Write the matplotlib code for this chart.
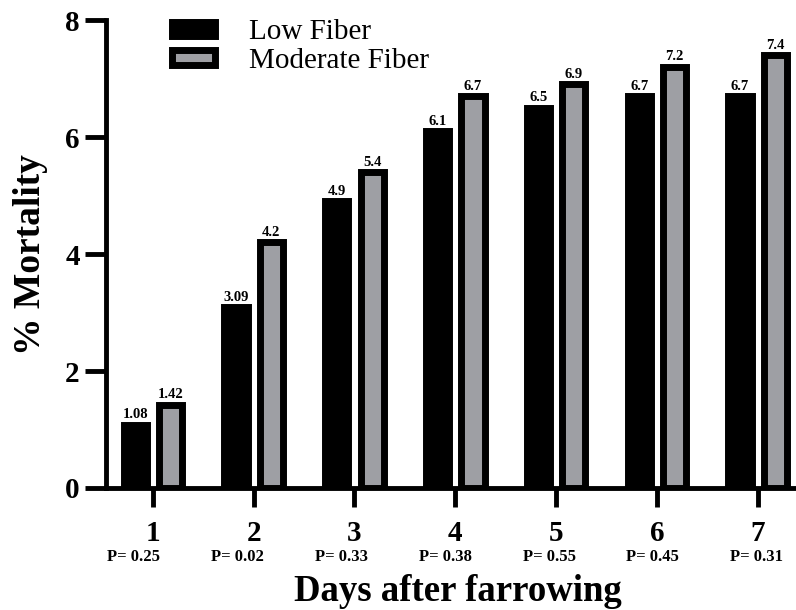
# mortality by day after farrowing, low vs moderate fiber

import numpy as np
import matplotlib.pyplot as plt

days = [1, 2, 3, 4, 5, 6, 7]
low_fiber = [1.08, 3.09, 4.9, 6.1, 6.5, 6.7, 6.7]
mod_fiber = [1.42, 4.2, 5.4, 6.7, 6.9, 7.2, 7.4]
low_labels = ["1.08", "3.09", "4.9", "6.1", "6.5", "6.7", "6.7"]
mod_labels = ["1.42", "4.2", "5.4", "6.7", "6.9", "7.2", "7.4"]
pvals = ["0.25", "0.02", "0.33", "0.38", "0.55", "0.45", "0.31"]

plt.rcParams['font.family'] = ['Liberation Serif', 'DejaVu Serif']

fig = plt.figure(figsize=(7.96, 6.10), dpi=100)
ax = fig.add_axes([0.1332, 0.2, 0.8668, 0.767])

x = np.array(days)
w = 0.23
off = 0.175
gray = '#9e9fa4'

ax.bar(x - off, low_fiber, w, color='black', edgecolor='black', linewidth=5, label='Low Fiber')
ax.bar(x + off, mod_fiber, w, color=gray, edgecolor='black', linewidth=5, label='Moderate Fiber')

for xi, v, s in zip(x, low_fiber, low_labels):
    ax.text(xi - off, v + 0.06, s, ha='center', va='bottom', fontsize=10.5, fontweight='bold')
for xi, v, s in zip(x, mod_fiber, mod_labels):
    ax.text(xi + off, v + 0.06, s, ha='center', va='bottom', fontsize=10.5, fontweight='bold')

ax.set_xlim(0.535, 7.38)
ax.set_ylim(0, 8)
ax.set_yticks([0, 2, 4, 6, 8])
ax.set_xticks(days)
ax.set_xticklabels([str(d) for d in days])

for side in ['top', 'right']:
    ax.spines[side].set_visible(False)
for side in ['left', 'bottom']:
    ax.spines[side].set_linewidth(3.5)

ax.tick_params(axis='y', length=15, width=3.5, labelsize=21, pad=4)
ax.tick_params(axis='x', length=14, width=3.5, labelsize=21, pad=9)
for lab in ax.get_xticklabels() + ax.get_yticklabels():
    lab.set_fontweight('bold')

# p-values under each day, drifting slightly like the original
for i, (d, p) in enumerate(zip(days, pvals)):
    ax.text(d - 0.19 + 0.03 * i, -1.18, "P= " + p, ha='center', va='center',
            fontsize=12, fontweight='bold', clip_on=False)

ax.set_xlabel("Days after farrowing", fontsize=26.5, fontweight='bold', va='top')
ax.xaxis.set_label_coords(0.51, -0.183)
ax.set_ylabel("% Mortality", fontsize=27, fontweight='bold')
ax.yaxis.set_label_coords(-0.084, 0.5)

leg = ax.legend(loc='upper left', bbox_to_anchor=((172 - 106) / 690, 1.002), frameon=False,
                prop={'family': ['Liberation Serif', 'DejaVu Serif'], 'size': 21, 'weight': 'normal'},
                handlelength=1.48, handleheight=0.38, handletextpad=1.15,
                labelspacing=0.1, borderpad=0, borderaxespad=0)

plt.savefig("out.png", dpi=100)
